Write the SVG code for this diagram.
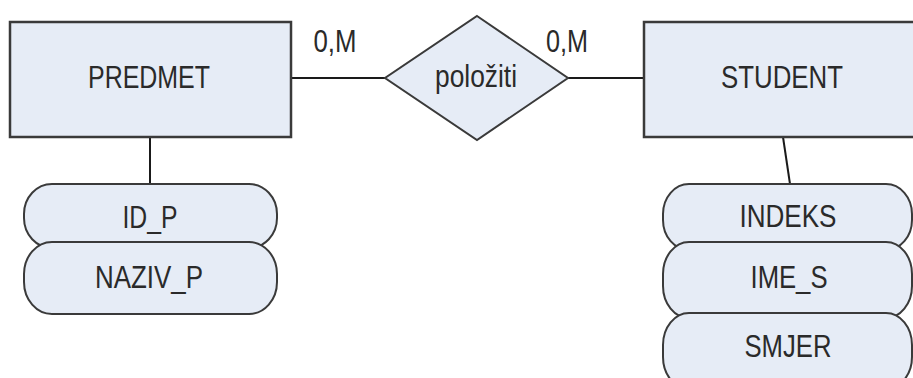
<svg xmlns="http://www.w3.org/2000/svg" width="913" height="378" viewBox="0 0 913 378">
<style>
.shape{fill:#e6ecf6;stroke:#3a3a3a;stroke-width:2}
.ent{fill:#e6ecf6;stroke:#3a3a3a;stroke-width:2.5}
.conn{stroke:#1a1a1a;stroke-width:2;fill:none}
text{font-family:"Liberation Sans",Arial,sans-serif;font-size:31px;fill:#2a2a2a;text-anchor:middle}
</style>
<rect width="913" height="378" fill="#ffffff"/>
<g id="connectors">
<line class="conn" x1="291" y1="78" x2="385" y2="78"/>
<line class="conn" x1="568" y1="78" x2="644" y2="78"/>
<line class="conn" x1="150" y1="137" x2="150" y2="184"/>
<line class="conn" x1="783" y1="137" x2="790" y2="184"/>
</g>
<g id="card-left"><text x="335" y="52" textLength="43" lengthAdjust="spacingAndGlyphs">0,M</text></g>
<g id="card-right"><text x="567" y="52" textLength="42" lengthAdjust="spacingAndGlyphs">0,M</text></g>
<g id="predmet">
<rect class="ent" x="10" y="22" width="281" height="115"/>
<text x="149" y="88" textLength="122" lengthAdjust="spacingAndGlyphs">PREDMET</text>
</g>
<g id="polozhiti">
<polygon class="shape" points="477,16 568,78 477,140 385,78"/>
<text x="476" y="87" textLength="82" lengthAdjust="spacingAndGlyphs">položiti</text>
</g>
<g id="student">
<rect class="ent" x="644" y="22" width="285" height="115"/>
<text x="782" y="88" textLength="122" lengthAdjust="spacingAndGlyphs">STUDENT</text>
</g>
<g id="id_p">
<rect class="shape" x="24" y="184" width="253" height="64" rx="28" ry="30"/>
<text x="150" y="228" textLength="55" lengthAdjust="spacingAndGlyphs">ID_P</text>
</g>
<g id="naziv_p">
<rect class="shape" x="24" y="242" width="253" height="72" rx="28" ry="32"/>
<text x="149" y="288" textLength="108" lengthAdjust="spacingAndGlyphs">NAZIV_P</text>
</g>
<g id="indeks">
<rect class="shape" x="663" y="184" width="249" height="66" rx="26" ry="30"/>
<text x="788" y="227" textLength="97" lengthAdjust="spacingAndGlyphs">INDEKS</text>
</g>
<g id="ime_s">
<rect class="shape" x="663" y="242" width="249" height="76" rx="26" ry="32"/>
<text x="789" y="288" textLength="77" lengthAdjust="spacingAndGlyphs">IME_S</text>
</g>
<g id="smjer">
<rect class="shape" x="663" y="313" width="249" height="76" rx="26" ry="32"/>
<text x="788" y="357" textLength="87" lengthAdjust="spacingAndGlyphs">SMJER</text>
</g>
</svg>
